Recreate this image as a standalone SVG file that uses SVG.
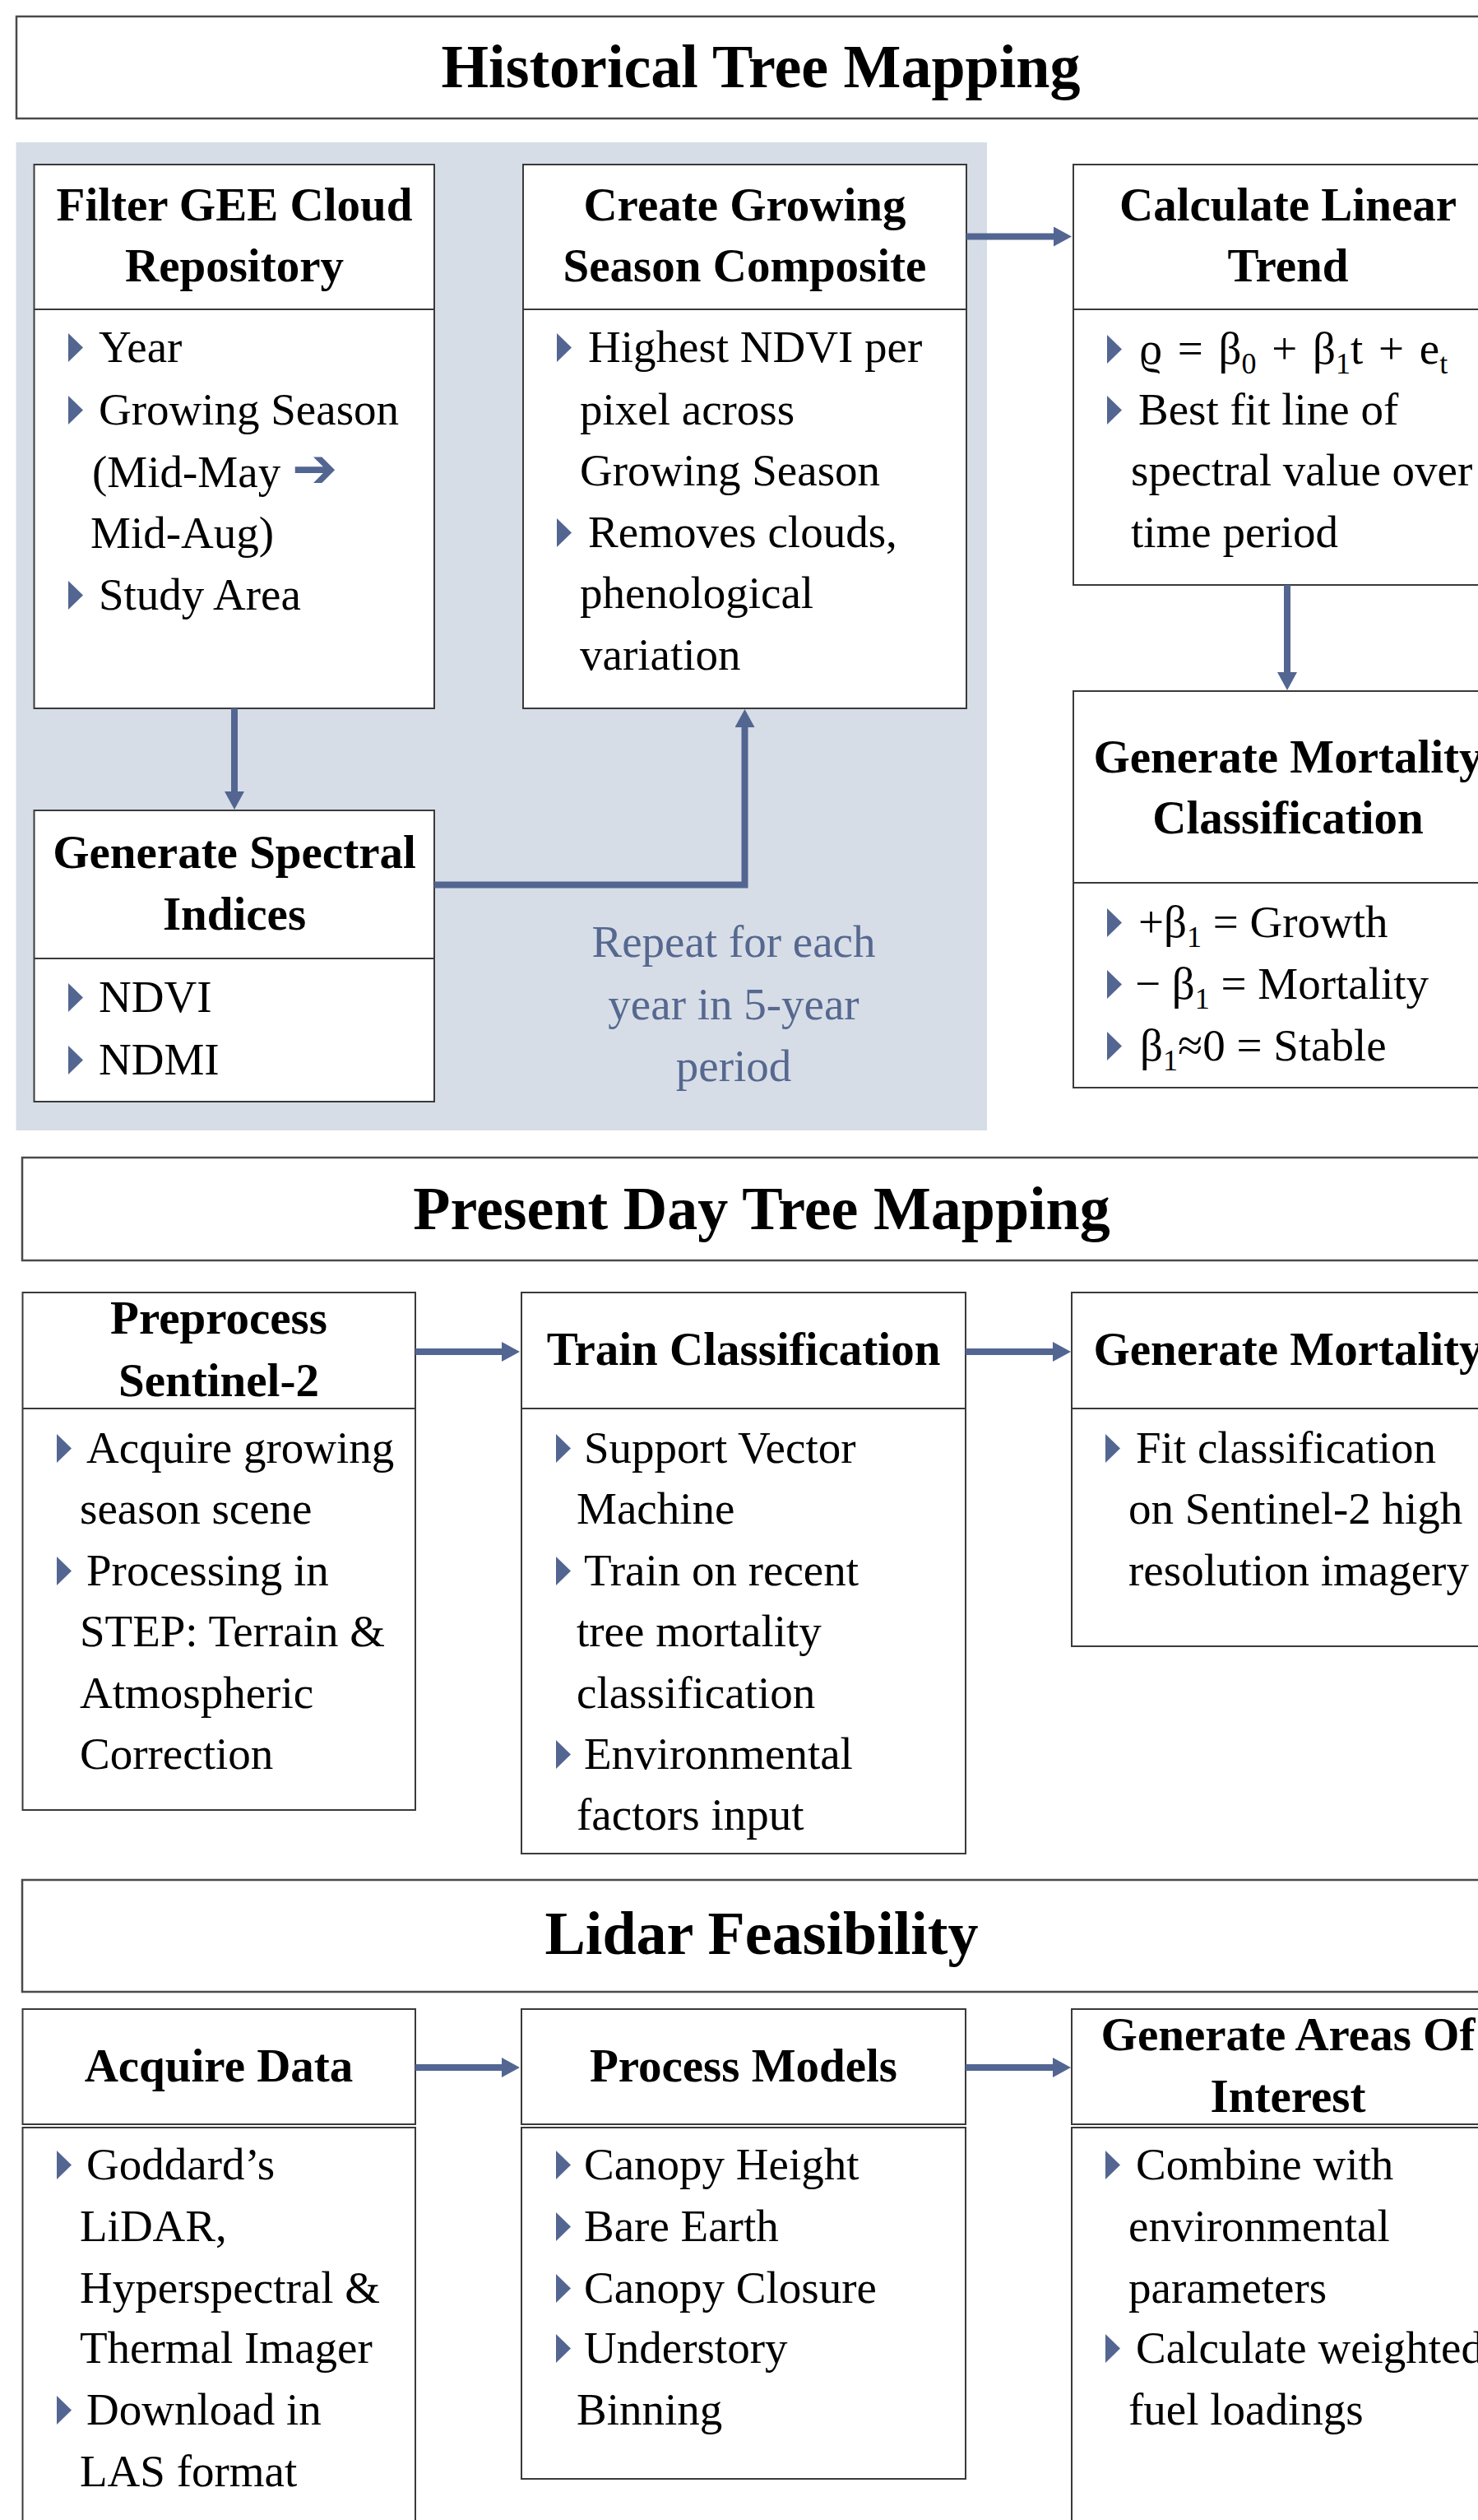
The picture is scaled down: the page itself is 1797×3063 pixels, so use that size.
<svg xmlns="http://www.w3.org/2000/svg" xmlns:xlink="http://www.w3.org/1999/xlink" width="1797" height="3063" viewBox="0 0 1797 3063">
<style>
.bg{fill:#fff}
.panel{fill:#d6dde7}
.tbox{fill:#fff;stroke:#4a4a4a;stroke-width:2.5}
.box{fill:#fff;stroke:#3a3a3a;stroke-width:2}
.div{stroke:#3a3a3a;stroke-width:2}
text{font-family:"Liberation Serif","DejaVu Serif",serif;fill:#000}
.title{font-size:74px;font-weight:bold;text-anchor:middle}
.hd{font-size:57px;font-weight:bold;text-anchor:middle}
.bd{font-size:55px}
.rep{font-size:55px;fill:#56688f;text-anchor:middle}
.bul{fill:#536591}
.conn{stroke:#536591;stroke-width:8;fill:none}
.sub{font-size:36px}
</style>
<defs>
<path id="b" class="bul" d="M0,0 L18,17.5 L0,35 Z"/>
<marker id="ah" markerUnits="userSpaceOnUse" markerWidth="24" markerHeight="24" refX="0" refY="12" orient="auto">
<path d="M0,0 L22,12 L0,24 Z" fill="#536591"/>
</marker>
</defs>
<rect class="bg" x="0" y="0" width="1797" height="3063"/>

<!-- Historical section -->
<g id="title-historical">
<rect class="tbox" x="20" y="20" width="1820" height="124"/>
<text class="title" x="925" y="106">Historical Tree Mapping</text>
</g>
<rect id="repeat-panel" class="panel" x="19.5" y="173" width="1180.5" height="1201"/>

<g id="filter-gee">
<rect class="box" x="41.5" y="200" width="486.5" height="661"/>
<line class="div" x1="41.5" y1="376" x2="528" y2="376"/>
<text class="hd" x="285" y="268">Filter GEE Cloud</text>
<text class="hd" x="285" y="342">Repository</text>
<use xlink:href="#b" x="83" y="405"/><text class="bd" x="120" y="440">Year</text>
<use xlink:href="#b" x="83" y="481"/><text class="bd" x="120" y="516">Growing Season</text>
<text class="bd" x="112" y="592">(Mid-May <tspan font-family="DejaVu Sans" font-size="66" fill="#536591" font-weight="bold">➔</tspan></text>
<text class="bd" x="110" y="666">Mid-Aug)</text>
<use xlink:href="#b" x="83" y="706"/><text class="bd" x="120" y="741">Study Area</text>
</g>

<g id="create-composite">
<rect class="box" x="636" y="200" width="539" height="661"/>
<line class="div" x1="636" y1="376" x2="1175" y2="376"/>
<text class="hd" x="905.5" y="268">Create Growing</text>
<text class="hd" x="905.5" y="342">Season Composite</text>
<use xlink:href="#b" x="677" y="405"/><text class="bd" x="715" y="440">Highest NDVI per</text>
<text class="bd" x="705" y="516">pixel across</text>
<text class="bd" x="705" y="590">Growing Season</text>
<use xlink:href="#b" x="677" y="630"/><text class="bd" x="715" y="665">Removes clouds,</text>
<text class="bd" x="705" y="739">phenological</text>
<text class="bd" x="705" y="814">variation</text>
</g>

<g id="calc-trend">
<rect class="box" x="1305" y="200" width="530" height="511"/>
<line class="div" x1="1305" y1="376" x2="1835" y2="376"/>
<text class="hd" x="1566" y="268">Calculate Linear</text>
<text class="hd" x="1566" y="342">Trend</text>
<use xlink:href="#b" x="1346" y="407"/><text class="bd" x="1385" y="442" word-spacing="5">ϱ = β<tspan class="sub" dy="12">0</tspan><tspan dy="-12"> + β</tspan><tspan class="sub" dy="12">1</tspan><tspan dy="-12">t + e</tspan><tspan class="sub" dy="12">t</tspan></text>
<use xlink:href="#b" x="1346" y="481"/><text class="bd" x="1384" y="516">Best fit line of</text>
<text class="bd" x="1375" y="590">spectral value over</text>
<text class="bd" x="1375" y="665">time period</text>
</g>

<g id="gen-spectral">
<rect class="box" x="41.5" y="985" width="486.5" height="354"/>
<line class="div" x1="41.5" y1="1165" x2="528" y2="1165"/>
<text class="hd" x="285" y="1055">Generate Spectral</text>
<text class="hd" x="285" y="1130">Indices</text>
<use xlink:href="#b" x="83" y="1195"/><text class="bd" x="120" y="1230">NDVI</text>
<use xlink:href="#b" x="83" y="1271"/><text class="bd" x="120" y="1306">NDMI</text>
</g>

<g id="repeat-label">
<text class="rep" x="892" y="1163">Repeat for each</text>
<text class="rep" x="892" y="1239">year in 5-year</text>
<text class="rep" x="892" y="1314">period</text>
</g>

<g id="gen-mortality-class">
<rect class="box" x="1305" y="840" width="530" height="482"/>
<line class="div" x1="1305" y1="1073" x2="1835" y2="1073"/>
<text class="hd" x="1566" y="939">Generate Mortality</text>
<text class="hd" x="1566" y="1013">Classification</text>
<use xlink:href="#b" x="1346" y="1104"/><text class="bd" x="1384" y="1139">+β<tspan class="sub" dy="12">1</tspan><tspan dy="-12"> = Growth</tspan></text>
<use xlink:href="#b" x="1346" y="1179"/><text class="bd" x="1380" y="1214">− β<tspan class="sub" dy="12">1</tspan><tspan dy="-12"> = Mortality</tspan></text>
<use xlink:href="#b" x="1346" y="1254"/><text class="bd" x="1386" y="1289">β<tspan class="sub" dy="12">1</tspan><tspan dy="-12">≈0 = Stable</tspan></text>
</g>

<!-- Present day section -->
<g id="title-present">
<rect class="tbox" x="27" y="1407" width="1813" height="125"/>
<text class="title" x="926" y="1494">Present Day Tree Mapping</text>
</g>

<g id="preprocess">
<rect class="box" x="27.5" y="1571" width="477.5" height="629"/>
<line class="div" x1="27.5" y1="1712" x2="505" y2="1712"/>
<text class="hd" x="266" y="1621">Preprocess</text>
<text class="hd" x="266" y="1697">Sentinel-2</text>
<use xlink:href="#b" x="69" y="1743"/><text class="bd" x="105" y="1778">Acquire growing</text>
<text class="bd" x="97" y="1852">season scene</text>
<use xlink:href="#b" x="69" y="1892"/><text class="bd" x="105" y="1927">Processing in</text>
<text class="bd" x="97" y="2001">STEP: Terrain &amp;</text>
<text class="bd" x="97" y="2076">Atmospheric</text>
<text class="bd" x="97" y="2150">Correction</text>
</g>

<g id="train-class">
<rect class="box" x="634" y="1571" width="540" height="682"/>
<line class="div" x1="634" y1="1712" x2="1174" y2="1712"/>
<text class="hd" x="904" y="1659">Train Classification</text>
<use xlink:href="#b" x="676" y="1743"/><text class="bd" x="710" y="1778">Support Vector</text>
<text class="bd" x="701" y="1852">Machine</text>
<use xlink:href="#b" x="676" y="1892"/><text class="bd" x="710" y="1927">Train on recent</text>
<text class="bd" x="701" y="2001">tree mortality</text>
<text class="bd" x="701" y="2076">classification</text>
<use xlink:href="#b" x="676" y="2115"/><text class="bd" x="710" y="2150">Environmental</text>
<text class="bd" x="701" y="2224">factors input</text>
</g>

<g id="gen-mortality">
<rect class="box" x="1303" y="1571" width="532" height="430"/>
<line class="div" x1="1303" y1="1712" x2="1835" y2="1712"/>
<text class="hd" x="1566" y="1659">Generate Mortality</text>
<use xlink:href="#b" x="1344" y="1743"/><text class="bd" x="1381" y="1778">Fit classification</text>
<text class="bd" x="1372" y="1852">on Sentinel-2 high</text>
<text class="bd" x="1372" y="1927">resolution imagery</text>
</g>

<!-- Lidar section -->
<g id="title-lidar">
<rect class="tbox" x="27" y="2285" width="1813" height="136"/>
<text class="title" x="926" y="2375">Lidar Feasibility</text>
</g>

<g id="acquire-data">
<rect class="box" x="27.5" y="2442" width="477.5" height="140"/>
<rect class="box" x="27.5" y="2586" width="477.5" height="500"/>
<text class="hd" x="266" y="2530">Acquire Data</text>
<use xlink:href="#b" x="69" y="2614"/><text class="bd" x="105" y="2649">Goddard’s</text>
<text class="bd" x="97" y="2724">LiDAR,</text>
<text class="bd" x="97" y="2799">Hyperspectral &amp;</text>
<text class="bd" x="97" y="2872">Thermal Imager</text>
<use xlink:href="#b" x="69" y="2912"/><text class="bd" x="105" y="2947">Download in</text>
<text class="bd" x="97" y="3022">LAS format</text>
</g>

<g id="process-models">
<rect class="box" x="634" y="2442" width="540" height="140"/>
<rect class="box" x="634" y="2586" width="540" height="427"/>
<text class="hd" x="904" y="2530">Process Models</text>
<use xlink:href="#b" x="676" y="2614"/><text class="bd" x="710" y="2649">Canopy Height</text>
<use xlink:href="#b" x="676" y="2689"/><text class="bd" x="710" y="2724">Bare Earth</text>
<use xlink:href="#b" x="676" y="2764"/><text class="bd" x="710" y="2799">Canopy Closure</text>
<use xlink:href="#b" x="676" y="2837"/><text class="bd" x="710" y="2872">Understory</text>
<text class="bd" x="701" y="2947">Binning</text>
</g>

<g id="gen-areas">
<rect class="box" x="1303" y="2442" width="532" height="140"/>
<rect class="box" x="1303" y="2586" width="532" height="500"/>
<text class="hd" x="1566" y="2492">Generate Areas Of</text>
<text class="hd" x="1566" y="2567">Interest</text>
<use xlink:href="#b" x="1344" y="2614"/><text class="bd" x="1381" y="2649">Combine with</text>
<text class="bd" x="1372" y="2724">environmental</text>
<text class="bd" x="1372" y="2799">parameters</text>
<use xlink:href="#b" x="1344" y="2837"/><text class="bd" x="1381" y="2872">Calculate weighted</text>
<text class="bd" x="1372" y="2947">fuel loadings</text>
</g>

<g id="connectors">
<path class="conn" d="M1175,287.5 H1281" marker-end="url(#ah)"/>
<path class="conn" d="M1565,711 V817" marker-end="url(#ah)"/>
<path class="conn" d="M285,861 V962" marker-end="url(#ah)"/>
<path class="conn" d="M528,1075.5 H905.5 V884" marker-end="url(#ah)"/>
<path class="conn" d="M505,1643 H610" marker-end="url(#ah)"/>
<path class="conn" d="M1174,1643 H1280" marker-end="url(#ah)"/>
<path class="conn" d="M505,2513 H610" marker-end="url(#ah)"/>
<path class="conn" d="M1174,2513 H1280" marker-end="url(#ah)"/>
</g>
</svg>
